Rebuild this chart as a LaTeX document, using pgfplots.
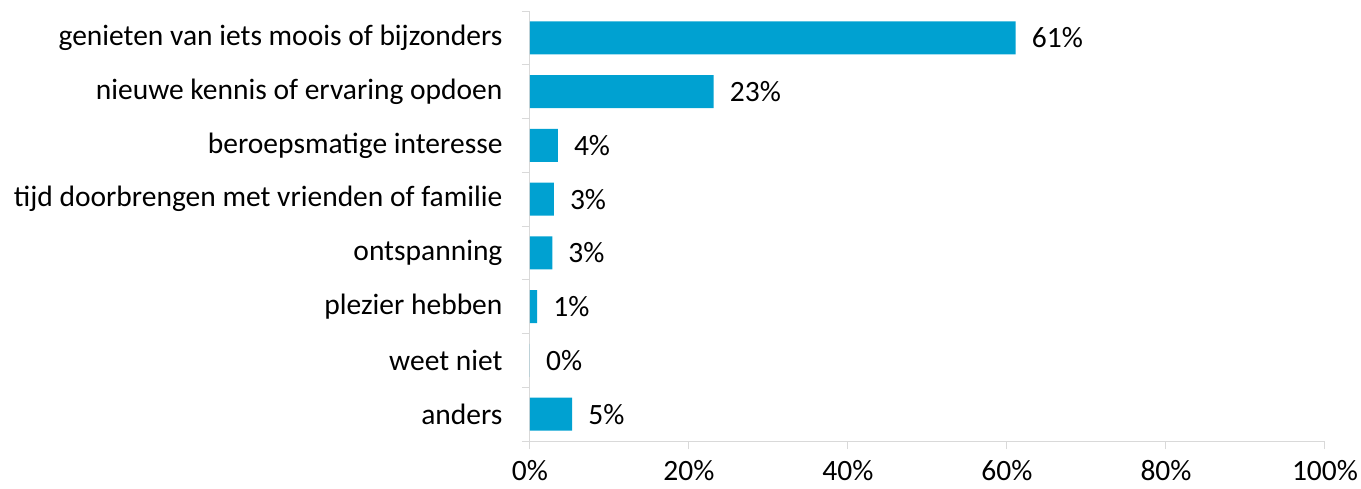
\documentclass[border=0pt]{standalone}
\usepackage{pgfplots}
\pgfplotsset{compat=1.18}
\usepackage{fontspec}
\setmainfont{Carlito}
\definecolor{barblue}{RGB}{0,161,209}
\definecolor{axgray}{RGB}{217,217,217}
\begin{document}
\begin{tikzpicture}
\path[use as bounding box] (-530pt,-48pt) rectangle (831pt,441pt);
\begin{axis}[
  at={(0pt,0pt)}, anchor=south west,
  scale only axis, width=795pt, height=430pt,
  xbar, bar width=33pt,
  xmin=0, xmax=100,
  ymin=-0.5, ymax=7.5, y dir=reverse,
  axis lines*=left,
  axis line style={axgray, line width=1pt},
  tick align=outside,
  xtick={0,20,40,60,80,100},
  xticklabels={0\%,20\%,40\%,60\%,80\%,100\%},
  major tick length=8pt,
  minor tick length=8pt,
  every tick/.style={axgray, line width=1pt},
  ytick={0,...,7},
  yticklabels={genieten van iets moois of bijzonders, nieuwe kennis of ervaring opdoen, beroepsmatige interesse, tijd doorbrengen met vrienden of familie, ontspanning, plezier hebben, weet niet, anders},
  major y tick style={draw=none},
  minor ytick={-0.5,0.5,...,7.5},
  minor y tick style={draw=axgray, line width=1pt},
  yticklabel style={font=\fontsize{29.5}{35}\selectfont, xshift=-16pt},
  xticklabel style={font=\fontsize{29.5}{35}\selectfont, yshift=-8pt},
  /pgf/number format/assume math mode=true,
  point meta=explicit symbolic,
  nodes near coords={\pgfplotspointmeta\%},
  nodes near coords style={anchor=west, inner sep=0pt, xshift=16pt, font=\fontsize{29.5}{35}\selectfont, black},
  clip=false,
]
\addplot[fill=barblue, draw=none] coordinates {
 (61.1,0) [61]
 (23.1,1) [23]
 (3.5,2) [4]
 (3.0,3) [3]
 (2.8,4) [3]
 (0.9,5) [1]
 (0,6) [0]
 (5.3,7) [5]
};
\end{axis}
\end{tikzpicture}
\end{document}
